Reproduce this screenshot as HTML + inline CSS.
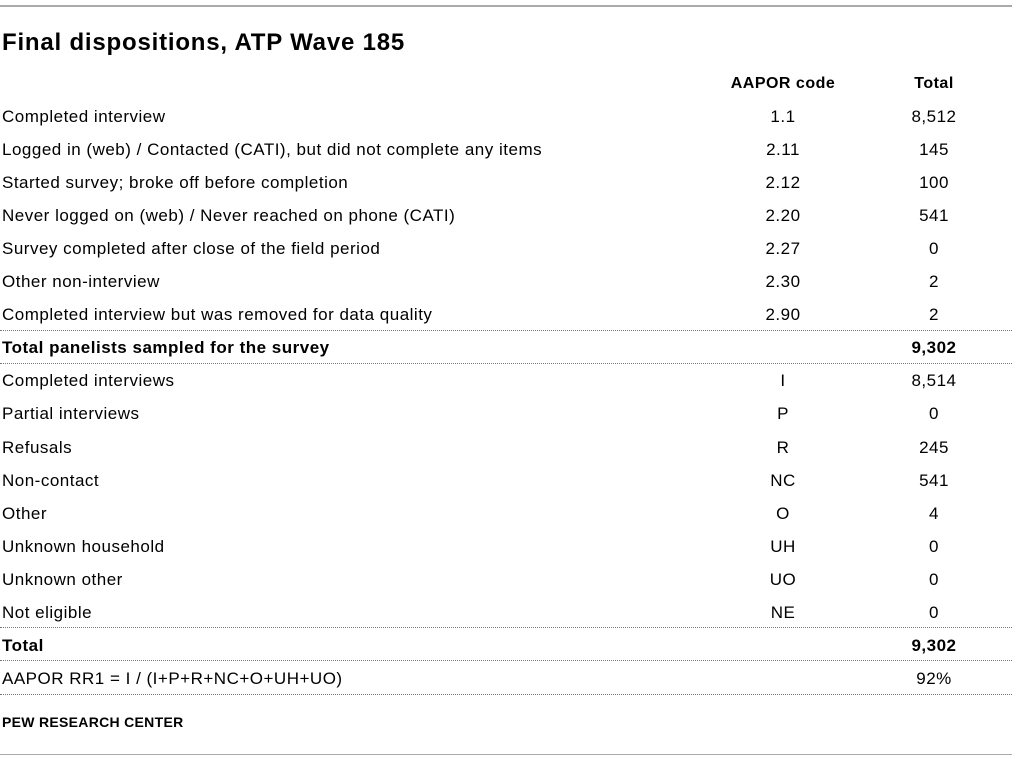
<!DOCTYPE html>
<html><head><meta charset="utf-8"><style>
body{margin:0;width:1023px;height:759px;background:#fff;font-family:"Liberation Sans",Arial,sans-serif;color:#000;position:relative;overflow:hidden}
.t{position:absolute;white-space:nowrap;font-size:17px;line-height:20px;letter-spacing:0.5px}
.l{left:2px}
.c{width:120px;text-align:center}
.a{left:723px}
.v{left:874px}
.b{font-weight:bold}
.hr{position:absolute;left:0;width:1012px}
</style></head><body>
<div class="hr" style="top:5px;border-top:2px solid #aaa"></div>
<div class="t b" style="left:2px;top:30px;font-size:24px;line-height:26px;letter-spacing:0.8px">Final dispositions, ATP Wave 185</div>
<div class="t b c a" style="top:74px;font-size:16px">AAPOR code</div>
<div class="t b c v" style="top:74px;font-size:16px">Total</div>
<div id="rows"></div>
<div class="hr" style="top:330px;border-top:1px dotted #777"></div>
<div class="hr" style="top:363px;border-top:1px dotted #777"></div>
<div class="hr" style="top:627px;border-top:1px dotted #777"></div>
<div class="hr" style="top:660px;border-top:1px dotted #777"></div>
<div class="hr" style="top:694px;border-top:1px dotted #777"></div>
<div class="t b" style="left:2px;top:712px;font-size:14px;letter-spacing:0.3px">PEW RESEARCH CENTER</div>
<div class="hr" style="top:754px;border-top:1px solid #aaa"></div>
<script>
var r=[["Completed interview","1.1","8,512"],["Logged in (web) / Contacted (CATI), but did not complete any items","2.11","145"],["Started survey; broke off before completion","2.12","100"],["Never logged on (web) / Never reached on phone (CATI)","2.20","541"],["Survey completed after close of the field period","2.27","0"],["Other non-interview","2.30","2"],["Completed interview but was removed for data quality","2.90","2"],["Total panelists sampled for the survey","","9,302",1],["Completed interviews","I","8,514"],["Partial interviews","P","0"],["Refusals","R","245"],["Non-contact","NC","541"],["Other","O","4"],["Unknown household","UH","0"],["Unknown other","UO","0"],["Not eligible","NE","0"],["Total","","9,302",1],["AAPOR RR1 = I / (I+P+R+NC+O+UH+UO)","","92%"]];
var h="";r.forEach(function(x,i){var y=107+i*33.05,b=x[3]?" b":"";h+='<div class="t l'+b+'" style="top:'+y+'px">'+x[0]+'</div><div class="t c a" style="top:'+y+'px">'+x[1]+'</div><div class="t c v'+b+'" style="top:'+y+'px">'+x[2]+'</div>';});
document.getElementById("rows").innerHTML=h;
</script>
</body></html>
